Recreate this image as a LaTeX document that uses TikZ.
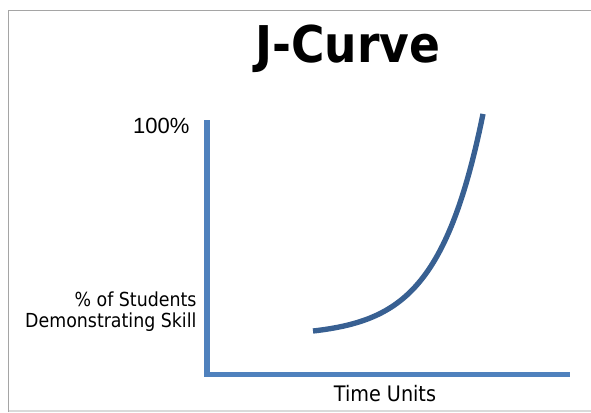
\documentclass[tikz,border=0pt]{standalone}
\usepackage{fontspec}
\setmainfont{DejaVu Sans Condensed}
\newfontfamily\arialfont{Liberation Sans}

\definecolor{axisblue}{RGB}{79,129,189}
\definecolor{curveblue}{RGB}{56,96,146}
\definecolor{framegray}{RGB}{165,165,165}
\definecolor{framelight}{RGB}{218,218,218}

\tikzset{every picture/.style={line width=0.75pt}}
\tikzset{
	axisline/.style={draw=axisblue, line width=4.1pt, line join=miter},
	jline/.style={draw=curveblue, line width=4pt},
	lbl/.style={inner sep=0.75pt, font=\fontsize{14.5}{15.75}\selectfont},
}

\begin{document}
\begin{tikzpicture}[x=0.75pt,y=0.75pt,yscale=-1,xscale=1]
	\useasboundingbox (0,0) rectangle (591,412);
	% frame of the slide
	\draw [framegray, line width=1.2pt] (8.5,412) -- (8.5,10.5) -- (591,10.5) ;
	\draw [framelight, line width=1pt] (8.5,411) -- (591,411) ;
	
	% axes
	\coordinate (ytop) at (207,120);
	\coordinate (origin) at (207,374.5);
	\coordinate (xend) at (570,374.5);
	\draw [axisline] (ytop) -- (origin) -- (xend) ;
	
	% the J
	\draw [jline] plot [domain=0:170, samples=90] ({313+\x},{331-5.1*(exp(0.0222*\x)-1)}) ;
	
	\node (title) at (348,62) [anchor=base, inner sep=0pt, font=\bfseries\fontsize{38}{40}\selectfont] {J-Curve};
	
	\node (full) at (190,133) [anchor=base east, inner sep=0pt, font=\arialfont\fontsize{16.5}{18}\selectfont] {100\%};
	
	\node (ylabel) at (198,327) [lbl, anchor=base east, align=right] {\% of Students\\Demonstrating Skill};
	
	\node (xlabel) at (385,401) [lbl, anchor=base, font=\fontsize{16}{18}\selectfont] {Time Units};
\end{tikzpicture}
\end{document}
